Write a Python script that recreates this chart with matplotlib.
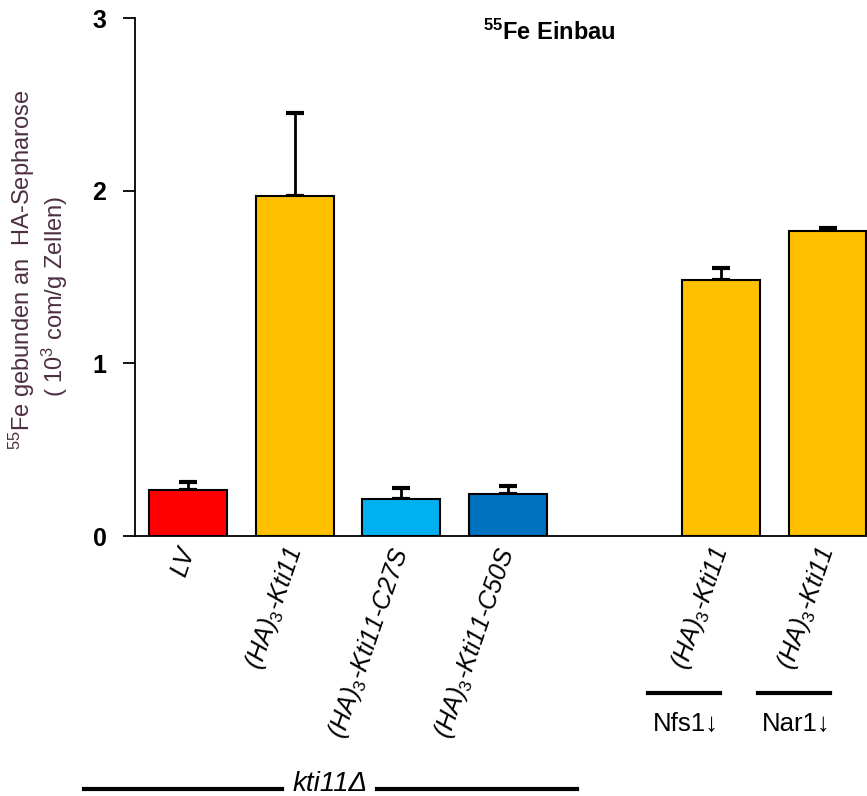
import numpy as np
import matplotlib.pyplot as plt

plt.rcParams['font.family'] = ['Liberation Sans', 'DejaVu Sans']
plt.rcParams['mathtext.fontset'] = 'custom'
plt.rcParams['mathtext.rm'] = 'Liberation Sans'
plt.rcParams['mathtext.it'] = 'Liberation Sans:italic'
plt.rcParams['mathtext.bf'] = 'Liberation Sans:bold'

# 55Fe bound to HA-Sepharose (10^3 cpm/g cells), mean and upper error
labels = ['LV', '(HA)$_3$-Kti11', '(HA)$_3$-Kti11-C27S', '(HA)$_3$-Kti11-C50S',
          '(HA)$_3$-Kti11', '(HA)$_3$-Kti11']
positions = [0, 1, 2, 3, 5, 6]
values = [0.265, 1.97, 0.215, 0.245, 1.485, 1.765]
errors = [0.045, 0.48, 0.065, 0.045, 0.065, 0.02]
colors = ['#FF0000', '#FFC000', '#00B0F0', '#0070C0', '#FFC000', '#FFC000']
depletions = ['Nfs1', 'Nar1']

W, H = 867, 796
fig = plt.figure(figsize=(W / 100, H / 100), dpi=100)
ax = fig.add_axes([135 / W, 1 - 536 / H, 1 - 135 / W, (536 - 18) / H])

ax.bar(positions, values, width=0.73, color=colors, edgecolor='black',
       linewidth=1.5, zorder=2)
ax.errorbar(positions, values, yerr=[np.zeros(len(errors)), errors], fmt='none',
            ecolor='black', elinewidth=2, capsize=6.5, capthick=3, zorder=1)

ax.set_xlim(-0.5, 6.37)
ax.set_ylim(0, 3)
ax.set_yticks([0, 1, 2, 3])
ax.set_yticklabels(['0', '1', '2', '3'], fontsize=18, fontweight='bold')
ax.tick_params(axis='y', direction='out', length=8.6, width=1.3, pad=12)
ax.set_xticks(positions)
ax.set_xticklabels(labels, rotation=71, ha='right', va='center',
                   rotation_mode='anchor', fontsize=18, style='italic')
ax.tick_params(axis='x', length=0, pad=9)
for s in ['top', 'right']:
    ax.spines[s].set_visible(False)
ax.spines['left'].set_linewidth(1.3)
ax.spines['bottom'].set_linewidth(1.3)

# y axis title, two lines
ycol = '#4d2f42'
fig.text(22 / W, 1 - 270 / H, '$^{55}$Fe gebunden an  HA-Sepharose',
         rotation=90, ha='center', va='center', fontsize=17, color=ycol)
fig.text(55 / W, 1 - 296 / H, '( 10$^3$ com/g Zellen)',
         rotation=90, ha='center', va='center', fontsize=17, color=ycol)

fig.text(483 / W, 1 - 32 / H, r'$^{\mathbf{55}}$Fe Einbau', fontsize=17,
         fontweight='bold', ha='left', va='center')

# depletion markers below the last two bars
for x0, x1, name in [(648, 720, depletions[0]), (758, 830, depletions[1])]:
    fig.add_artist(plt.Line2D([x0 / W, x1 / W], [1 - 693 / H] * 2,
                              color='black', linewidth=3))
    fig.text((x0 + x1) / 2 / W + 2 / W, 1 - 724 / H, name + '\u2193',
             fontsize=18.5, ha='center', va='center')

# kti11 deletion bracket under the first four strains
fig.add_artist(plt.Line2D([84 / W, 282 / W], [1 - 789 / H] * 2,
                          color='black', linewidth=3))
fig.add_artist(plt.Line2D([377 / W, 577 / W], [1 - 789 / H] * 2,
                          color='black', linewidth=3))
fig.text(330 / W, 1 - 784 / H, 'kti11\u0394', fontsize=20, style='italic',
         ha='center', va='center')

fig.savefig('out.png', dpi=100)
